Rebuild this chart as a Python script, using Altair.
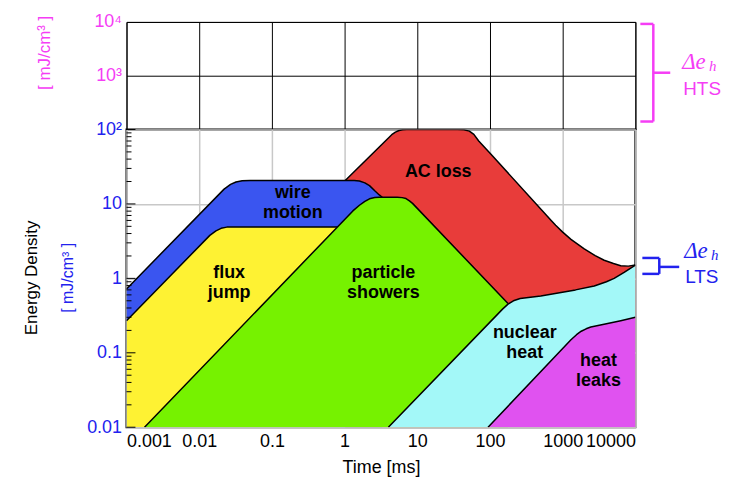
import altair as alt
import pandas as pd

W, H_TOP, H_BOT = 511, 108, 299

# ---- region boundaries (upper edges) ----
red_x = [1.02, 4.45, 5.0, 5.6, 6.3, 7.2, 36, 44, 52, 60, 70, 104, 700, 800, 1000, 1300,
         1980, 2800, 3725, 5000, 6290, 8000, 10000]
red_y = [20.6, 85, 92, 97, 99.5, 100, 100, 99, 95, 86, 70, 46, 5.96, 5.16, 4.18, 3.34,
         2.49, 2.02, 1.75, 1.58, 1.48, 1.46, 1.51]

blue_x = [0.001, 0.022, 0.027, 0.032, 0.039, 0.05, 1.35, 1.6, 1.9, 2.2, 2.6, 3.0, 3.3]
blue_y = [0.72, 15.8, 18.3, 19.7, 20.5, 20.6, 20.6, 20.3, 19.2, 17.6, 15.0, 13.2, 12.3]

yellow_x = [0.001, 0.014, 0.017, 0.02, 0.024, 0.03, 0.9]
yellow_y = [0.27, 3.78, 4.35, 4.7, 4.88, 4.9, 4.9]

green_x = [0.00177, 1.3, 1.6, 1.9, 2.2, 2.6, 3.0, 5.3, 6.2, 7.0, 7.8, 8.6, 177]
green_y = [0.01, 8.05, 9.6, 10.8, 11.7, 12.2, 12.3, 12.3, 12.15, 11.8, 11.0, 10.17, 0.46]

cyan_x = [4.0, 150, 177, 210, 260, 500, 948, 1500, 2717, 4000, 5100, 7000, 10000]
cyan_y = [0.01, 0.389, 0.45, 0.5, 0.535, 0.58, 0.645, 0.7, 0.79, 0.9, 1.0, 1.2, 1.51]

mag_x = [94, 1300, 1550, 1800, 2100, 2440, 4000, 6290, 10000]
mag_y = [0.01, 0.15, 0.175, 0.195, 0.21, 0.222, 0.245, 0.27, 0.3]

colors = {
    "red": "#e83c3a", "blue": "#3a55f0", "yellow": "#fef233",
    "green": "#76f200", "cyan": "#a3f8f8", "magenta": "#e052f0",
}

label_text = ["wire\nmotion", "flux\njump", "particle\nshowers", "AC loss",
              "nuclear\nheat", "heat\nleaks"]
label_x = [0.194, 0.0258, 3.42, 19.4, 301, 3110]
label_y = [14.1, 1.185, 1.185, 26.6, 0.1866, 0.0764]

x_ticks = [0.001, 0.01, 0.1, 1, 10, 100, 1000, 10000]
y_ticks_bot = [0.01, 0.1, 1, 10, 100]
y_ticks_top = [1000, 10000]
Y_FLOOR = 0.01

MAGENTA = "#f53df5"
BLUE = "#2222ee"
FONT = "Liberation Sans"

xscale = alt.Scale(type="log", domain=[0.001, 10000])
yscale_bot = alt.Scale(type="log", domain=[0.01, 100])
yscale_top = alt.Scale(type="log", domain=[100, 10000])

xaxis_bot = alt.Axis(values=x_ticks, format="~g", labelColor="black", labelFontSize=18,
                     labelFont=FONT, labelPadding=5, ticks=False, domain=False,
                     grid=True, gridColor="#c8c8c8", gridWidth=1.5,
                     title="Time [ms]", titleFont=FONT, titleFontSize=18,
                     titleFontWeight="normal", titleColor="black", titlePadding=8)
yaxis_bot = alt.Axis(values=y_ticks_bot,
                     labelExpr="datum.value >= 99 ? '10²' : format(datum.value, '~g')",
                     labelColor=BLUE, labelFontSize=18, labelFont=FONT, labelPadding=5,
                     ticks=False, domain=False, grid=True, gridColor="#c8c8c8",
                     gridWidth=1.5, title=None)

xaxis_top = alt.Axis(values=x_ticks, labels=False, ticks=False, domain=False, grid=True,
                     gridColor="black", gridWidth=1, title=None)
yaxis_top = alt.Axis(values=y_ticks_top,
                     labelExpr="datum.value > 5000 ? '10⁴' : '10³'",
                     labelColor=MAGENTA, labelFontSize=18, labelFont=FONT, labelPadding=5,
                     ticks=False, domain=False, grid=True, gridColor="black", gridWidth=1,
                     title=None)

XB = alt.X("x:Q", scale=xscale, axis=xaxis_bot)
YB = alt.Y("y:Q", scale=yscale_bot, axis=yaxis_bot)


def region(xs, ys, color):
    df = pd.DataFrame({"x": xs, "y": ys, "b": [Y_FLOOR] * len(xs)})
    base = alt.Chart(df)
    fill = base.mark_area(interpolate="linear", clip=True, color=color, opacity=1).encode(
        x=XB, y=YB, y2=alt.Y2("b:Q"))
    edge = base.mark_line(interpolate="linear", clip=True, color="black",
                          strokeWidth=1.5, strokeJoin="round").encode(x=XB, y=YB)
    return [fill, edge]


areas = (region(red_x, red_y, colors["red"])
         + region(blue_x, blue_y, colors["blue"])
         + region(yellow_x, yellow_y, colors["yellow"])
         + region(green_x, green_y, colors["green"])
         + region(cyan_x, cyan_y, colors["cyan"])
         + region(mag_x, mag_y, colors["magenta"]))

labels = alt.Chart(pd.DataFrame({"x": label_x, "y": label_y, "t": label_text})).mark_text(
    font=FONT, fontSize=18, fontWeight="bold", color="black", lineBreak="\n",
    lineHeight=20, baseline="middle", align="center").encode(x=XB, y=YB, text="t:N")

# minor ticks on the left edge of the lower panel
minor_vals = [m * 10.0 ** e for e in range(-2, 2) for m in range(2, 10)]
minor = alt.Chart(pd.DataFrame({"y": minor_vals})).mark_rule(color="black", strokeWidth=1).encode(
    x=alt.value(0), x2=alt.value(5), y=YB)
major = alt.Chart(pd.DataFrame({"y": y_ticks_bot})).mark_rule(color="black", strokeWidth=1).encode(
    x=alt.value(0), x2=alt.value(9), y=YB)


def txt(text, x, y, color, size, **kw):
    return alt.Chart(pd.DataFrame({"t": [text]})).mark_text(
        fontSize=size, color=color, **kw).encode(x=alt.value(x), y=alt.value(y), text="t:N")


ytitle1 = txt("Energy Density", -95, 149, "black", 17, angle=270, font=FONT, baseline="middle")
ytitle2 = txt("[ mJ/cm³ ]", -59, 149, BLUE, 16, angle=270, font=FONT, baseline="middle")

# LTS bracket (blue)
lts_lines = alt.Chart(pd.DataFrame({"a": [0]})).mark_rule(color=BLUE, strokeWidth=2.5)
lts = [
    lts_lines.encode(x=alt.value(518), x2=alt.value(535), y=alt.value(129)),
    lts_lines.encode(x=alt.value(518), x2=alt.value(535), y=alt.value(145)),
    lts_lines.encode(x=alt.value(535), y=alt.value(129), y2=alt.value(145)),
    lts_lines.encode(x=alt.value(535), x2=alt.value(555), y=alt.value(138)),
    txt("Δe", 560, 129, BLUE, 23, font="Liberation Serif", fontStyle="italic",
        align="left", baseline="alphabetic"),
    txt("h", 587, 131, BLUE, 15, font="Liberation Serif", fontStyle="italic",
        align="left", baseline="alphabetic"),
    txt("LTS", 561, 154, BLUE, 19, font=FONT, align="left", baseline="alphabetic"),
]

bottom = alt.layer(*areas, labels, minor, major, ytitle1, ytitle2, *lts).properties(
    width=W, height=H_BOT, view=alt.ViewBackground(stroke="black", strokeWidth=2))

# ---- upper (HTS) panel ----
frame_pts = alt.Chart(pd.DataFrame({"x": [0.001, 10000], "y": [100, 10000]})).mark_point(
    opacity=0).encode(x=alt.X("x:Q", scale=xscale, axis=xaxis_top),
                      y=alt.Y("y:Q", scale=yscale_top, axis=yaxis_top))

hts_lines = alt.Chart(pd.DataFrame({"a": [0]})).mark_rule(color=MAGENTA, strokeWidth=2.5)
hts = [
    hts_lines.encode(x=alt.value(516), x2=alt.value(529), y=alt.value(2)),
    hts_lines.encode(x=alt.value(516), x2=alt.value(529), y=alt.value(100)),
    hts_lines.encode(x=alt.value(529), y=alt.value(2), y2=alt.value(100)),
    hts_lines.encode(x=alt.value(529), x2=alt.value(546), y=alt.value(51)),
    txt("Δe", 558, 47, MAGENTA, 23, font="Liberation Serif", fontStyle="italic",
        align="left", baseline="alphabetic"),
    txt("h", 585, 49, MAGENTA, 15, font="Liberation Serif", fontStyle="italic",
        align="left", baseline="alphabetic"),
    txt("HTS", 559, 73, MAGENTA, 19, font=FONT, align="left", baseline="alphabetic"),
    txt("[ mJ/cm³ ]", -82, 31, MAGENTA, 17, angle=270, font=FONT, baseline="middle"),
]

top = alt.layer(frame_pts, *hts).properties(
    width=W, height=H_TOP, view=alt.ViewBackground(stroke="black", strokeWidth=1))

chart = alt.vconcat(top, bottom, spacing=0, bounds="flush").properties(
    padding={"left": 14, "top": 3, "right": 5, "bottom": 5}
).configure(font=FONT)

chart.save("out.html", embed_options={"renderer": "svg", "actions": False})
